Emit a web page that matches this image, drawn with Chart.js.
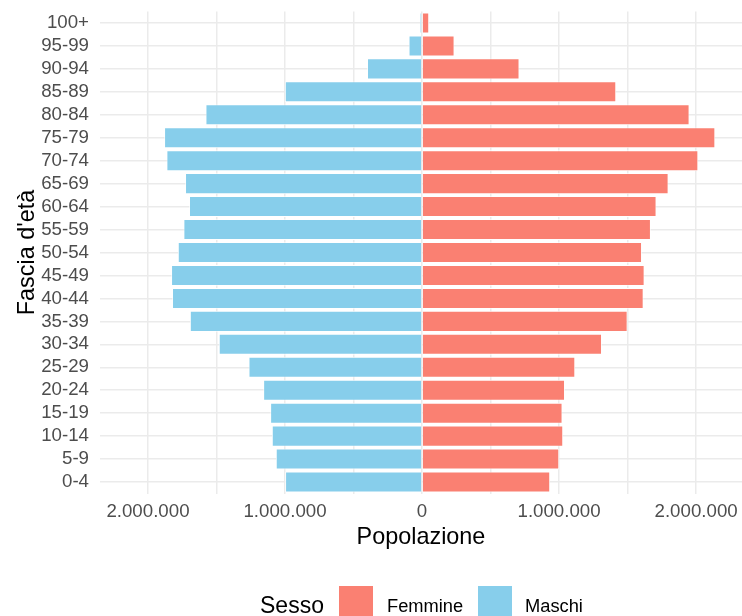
<!DOCTYPE html>
<html>
<head>
<meta charset="utf-8">
<script src="https://cdn.jsdelivr.net/npm/chart.js@4"></script>
<style>
  body { margin: 0; background: #fff; font-family: "Liberation Sans", Arial, sans-serif; }
  #wrap { position: relative; width: 742px; height: 616px; overflow: hidden; }
  .leg { position: absolute; line-height: 1; white-space: nowrap; color: #000; }
  .box { position: absolute; width: 34px; height: 34px; }
</style>
</head>
<body>
<div id="wrap">
  <canvas id="pyramid" width="742" height="616"></canvas>
  <div class="leg" style="left:260px; top:594px; font-size:23px;">Sesso</div>
  <div class="box" style="left:339px; top:586px; background:#FA8072;"></div>
  <div class="leg" style="left:387px; top:597px; font-size:18.3px;">Femmine</div>
  <div class="box" style="left:478px; top:586px; background:#87CEEB;"></div>
  <div class="leg" style="left:525px; top:597px; font-size:18.3px;">Maschi</div>
</div>
<script>
// age groups, bottom to top
const ages = ['0-4', '5-9', '10-14', '15-19', '20-24', '25-29', '30-34', '35-39', '40-44', '45-49',
  '50-54', '55-59', '60-64', '65-69', '70-74', '75-79', '80-84', '85-89', '90-94', '95-99', '100+'];

// males are negative so they go to the left
const maschi = [-998000, -1066000, -1095000, -1107000, -1158000, -1265000, -1482000, -1693000, -1823000, -1830000,
  -1781000, -1740000, -1699000, -1728000, -1864000, -1881000, -1579000, -1000000, -400000, -97000, -15000];

const femmine = [934000, 1000000, 1029000, 1024000, 1042000, 1117000, 1312000, 1499000, 1616000, 1623000,
  1604000, 1669000, 1710000, 1798000, 2015000, 2139000, 1951000, 1416000, 710000, 236000, 51000];

// vertical grid lines (only the whole millions get a label)
const xGrid = [-2000000, -1500000, -1000000, -500000, 0, 500000, 1000000, 1500000, 2000000];

const xMin = -2350000;
const xMax = 2335000;

function formatNum(v) {
  return Math.abs(v).toString().replace(/\B(?=(\d{3})+(?!\d))/g, '.');
}

// no extra room for the first/last tick labels
function noPad(s) {
  s.paddingTop = 0;
  s.paddingBottom = 0;
  s.paddingLeft = 0;
  s.paddingRight = 0;
}

const gridColor = '#EBEBEB';

new Chart(document.getElementById('pyramid').getContext('2d'), {
  type: 'bar',
  data: {
    labels: ages,
    datasets: [
      { label: 'Femmine', data: femmine, backgroundColor: '#FA8072', borderColor: '#ffffff', borderWidth: 0.8,
        barPercentage: 0.9, categoryPercentage: 1 },
      { label: 'Maschi', data: maschi, backgroundColor: '#87CEEB', borderColor: '#ffffff', borderWidth: 0.8,
        barPercentage: 0.9, categoryPercentage: 1 }
    ]
  },
  options: {
    indexAxis: 'y',
    responsive: false,
    animation: false,
    layout: { padding: { top: 11.5, right: 0, bottom: 59.5, left: 0 } },
    plugins: { legend: { display: false }, tooltip: { enabled: false } },
    scales: {
      x: {
        type: 'linear',
        stacked: true,
        min: xMin,
        max: xMax,
        border: { display: false },
        grid: { color: gridColor, lineWidth: 1.5, drawTicks: false },
        ticks: {
          autoSkip: false,
          maxRotation: 0,
          padding: 7.5,
          color: '#4D4D4D',
          font: { family: 'Liberation Sans', size: 18.7 },
          callback: v => (v % 1000000 === 0 ? formatNum(v) : '')
        },
        afterBuildTicks: s => { s.ticks = xGrid.map(v => ({ value: v })); },
        afterFit: s => { s.height = 63; noPad(s); },
        title: {
          display: true,
          text: 'Popolazione',
          color: '#000',
          font: { family: 'Liberation Sans', size: 23.4 },
          padding: { top: 0, bottom: 5 }
        }
      },
      y: {
        stacked: true,
        reverse: true,
        border: { display: false },
        grid: { color: gridColor, lineWidth: 1.5, drawTicks: false, offset: false },
        ticks: {
          autoSkip: false,
          padding: 11,
          color: '#4D4D4D',
          font: { family: 'Liberation Sans', size: 18.7 }
        },
        afterFit: s => { s.width = 100; noPad(s); },
        title: {
          display: true,
          text: "Fascia d'età",
          color: '#000',
          font: { family: 'Liberation Sans', size: 23.4 },
          padding: { top: 14, bottom: 0 }
        }
      }
    }
  }
});
</script>
</body>
</html>
